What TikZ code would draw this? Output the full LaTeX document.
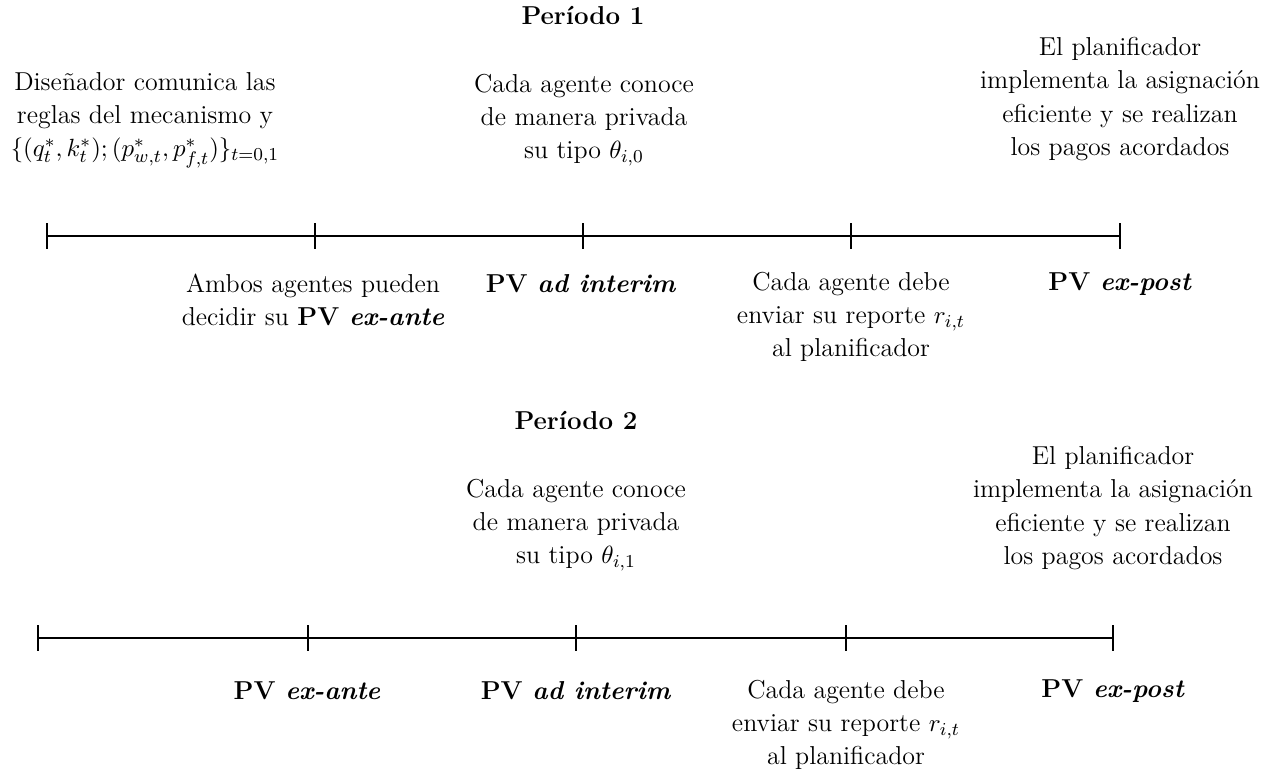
\documentclass[tikz,border=0pt]{standalone}
\begin{document}
\begin{tikzpicture}[x=0.44pt,y=-0.44pt,
  txt/.style={align=center,inner sep=0pt,font=\fontsize{11.4}{14.6}\selectfont},
  tl/.style={line width=0.6pt},
  tick/.style={line width=0.6pt}]
\useasboundingbox (0,0) rectangle (1277,773);
% Period 1
\node[txt,font=\fontsize{11.4}{14.6}\selectfont\bfseries] (p1) at (583,15) {Período 1};
\node[txt] (a1) at (145,120) {Diseñador comunica las\\reglas del mecanismo y\\$\{(q_t^*,k_t^*);(p_{w,t}^*,p_{f,t}^*)\}_{t=0,1}$};
\node[txt] (b1) at (584,120) {Cada agente conoce\\de manera privada\\su tipo $\theta_{i,0}$};
\node[txt] (c1) at (1120,99) {El planificador\\implementa la asignación\\eficiente y se realizan\\los pagos acordados};
\foreach \n/\x in {1/47,2/315,3/583,4/851,5/1120}{
  \coordinate (u\n) at (\x,236);
  \draw[tick] ([yshift=13*0.44pt]u\n) -- ([yshift=-13*0.44pt]u\n);
}
\draw[tl] (u1) -- (u5);
\node[txt] (d1) at (313,300) {Ambos agentes pueden\\decidir su \textbf{PV \textit{ex-ante}}};
\node[txt] (e1) at (581,284) {\textbf{PV \textit{ad interim}}};
\node[txt] (f1) at (851,317) {Cada agente debe\\enviar su reporte $r_{i,t}$\\al planificador};
\node[txt] (g1) at (1120,284) {\textbf{PV \textit{ex-post}}};
% Period 2
\node[txt,font=\fontsize{11.4}{14.6}\selectfont\bfseries] (p2) at (576,420) {Período 2};
\node[txt] (b2) at (576,525) {Cada agente conoce\\de manera privada\\su tipo $\theta_{i,1}$};
\node[txt] (c2) at (1113,508) {El planificador\\implementa la asignación\\eficiente y se realizan\\los pagos acordados};
\foreach \n/\x in {1/38,2/308,3/576,4/846,5/1113}{
  \coordinate (v\n) at (\x,638);
  \draw[tick] ([yshift=13*0.44pt]v\n) -- ([yshift=-13*0.44pt]v\n);
}
\draw[tl] (v1) -- (v5);
\node[txt] (d2) at (307,691) {\textbf{PV \textit{ex-ante}}};
\node[txt] (e2) at (576,691) {\textbf{PV \textit{ad interim}}};
\node[txt] (f2) at (846,725) {Cada agente debe\\enviar su reporte $r_{i,t}$\\al planificador};
\node[txt] (g2) at (1113,691) {\textbf{PV \textit{ex-post}}};
\end{tikzpicture}
\end{document}
